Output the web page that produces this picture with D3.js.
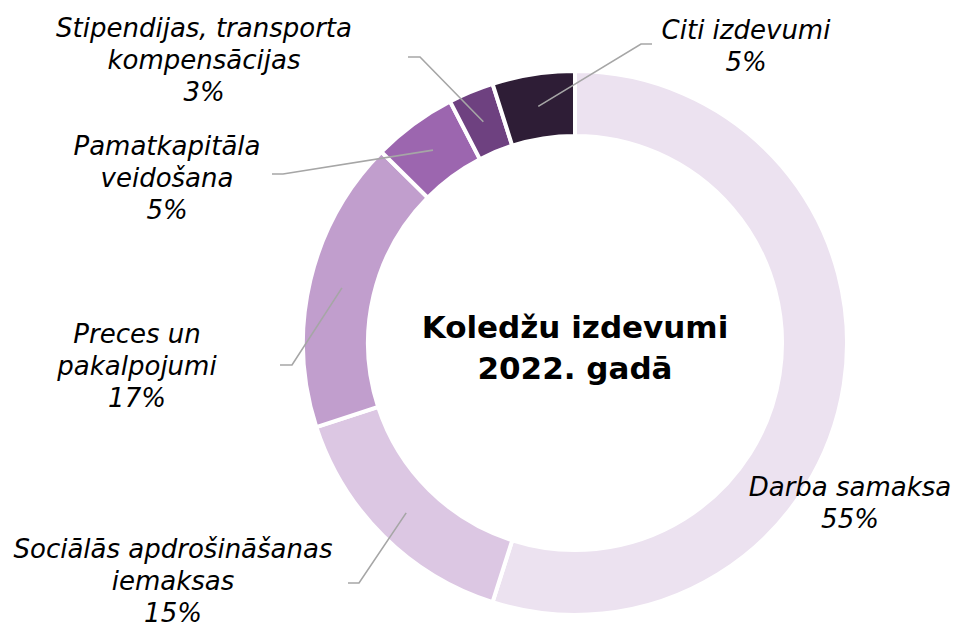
<!DOCTYPE html>
<html><head><meta charset="utf-8">
<script src="https://cdn.jsdelivr.net/npm/d3@7/dist/d3.min.js"></script>
<style>body{margin:0;background:#fff}svg{display:block}</style>
</head><body>
<svg id="c" width="955" height="628"></svg>
<script>
const categories = ["Darba samaksa","Sociālās apdrošināšanas iemaksas","Preces un pakalpojumi","Pamatkapitāla veidošana","Stipendijas, transporta kompensācijas","Citi izdevumi"];
const values = [54.9, 15.1, 17.4, 5.0, 2.7, 4.9];
const pctLabels = ["55%","15%","17%","5%","3%","5%"];
const labelLines = [
  ["Darba samaksa","55%"],
  ["Sociālās apdrošināšanas","iemaksas","15%"],
  ["Preces un","pakalpojumi","17%"],
  ["Pamatkapitāla","veidošana","5%"],
  ["Stipendijas, transporta","kompensācijas","3%"],
  ["Citi izdevumi","5%"]
];
const colors = ["#ECE2F0","#DCC7E3","#C19ECD","#9C66AF","#6E4180","#2E1D36"];
// label layout: text center x, first line center y, leader elbow & end
const layout = [
  {x:850, y:487, lead:false},
  {x:173, y:549, lead:true, elbow:[359,583], end:[348,583]},
  {x:137, y:334, lead:true, elbow:[292,365], end:[280,365]},
  {x:167, y:146, lead:true, elbow:[283,174], end:[272,174]},
  {x:204, y:28,  lead:true, elbow:[420,57],  end:[408,57]},
  {x:746, y:30,  lead:true, elbow:[641,44],  end:[652,44]}
];
const cx = 575, cy = 343, R = 272, r0 = 207;
const svg = d3.select("#c");
const g = svg.append("g").attr("transform", `translate(${cx},${cy})`);
const pie = d3.pie().sort(null).value(d => d)(values);
const arc = d3.arc().innerRadius(r0).outerRadius(R);
const mid = d3.arc().innerRadius((R + r0) / 2).outerRadius((R + r0) / 2);
g.selectAll("path.s").data(pie).join("path").attr("class","s")
  .attr("d", arc).attr("fill", (d,i) => colors[i])
  .attr("stroke", "#fff").attr("stroke-width", 4).attr("stroke-linejoin","miter");

// leader lines
pie.forEach((d,i) => {
  const L = layout[i];
  if (!L.lead) return;
  const c = mid.centroid(d);
  const p0 = [cx + c[0], cy + c[1]];
  svg.append("polyline")
    .attr("points", [p0, L.elbow, L.end].map(p => p.join(",")).join(" "))
    .attr("fill","none").attr("stroke","#A6A6A6").attr("stroke-width",1.6);
});

// labels
labelLines.forEach((lines,i) => {
  const L = layout[i];
  const t = svg.append("text").attr("text-anchor","middle")
    .attr("font-family","'DejaVu Sans', Verdana, sans-serif")
    .attr("font-style","italic").attr("font-size",26).attr("fill","#000");
  lines.forEach((s,j) => {
    t.append("tspan").attr("x", L.x).attr("y", L.y + j*32).attr("dy","0.35em").text(s);
  });
});

// center title
const title = svg.append("text").attr("text-anchor","middle")
  .attr("font-family","'DejaVu Sans', Verdana, sans-serif")
  .attr("font-weight","bold").attr("font-size",31).attr("fill","#000");
["Koledžu izdevumi","2022. gadā"].forEach((s,j) => {
  title.append("tspan").attr("x", cx).attr("y", 327 + j*41).attr("dy","0.35em").text(s);
});
</script>
</body></html>
